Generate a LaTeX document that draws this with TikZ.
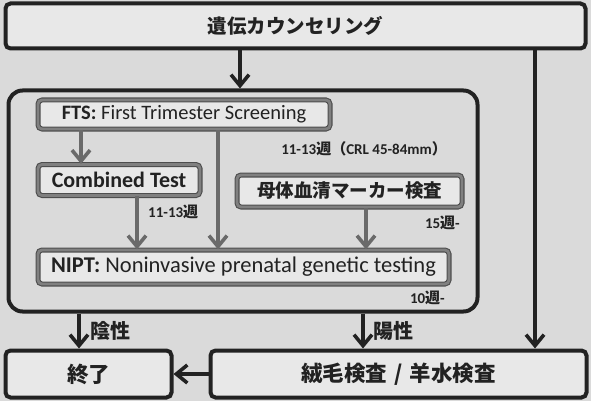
\documentclass[tikz,border=0pt]{standalone}
\usepackage{fontspec}
\setmainfont{Carlito}
\newfontfamily\jp{Noto Sans CJK JP}
\usetikzlibrary{arrows.meta}
\definecolor{bgc}{HTML}{DADADA}
\definecolor{boxfill}{HTML}{E8E8E8}
\definecolor{darkln}{HTML}{222222}
\definecolor{grayln}{HTML}{6A6A6A}
\tikzset{
  outerbox/.style={draw=darkln, line width=4pt, fill=boxfill, rounded corners=5pt, inner sep=0pt},
  innerbox/.style={draw=darkln!80, double=grayln!85, double distance=2.8pt, line width=1.1pt, fill=boxfill, rounded corners=4pt, inner sep=0pt},
  darrow/.style={draw=darkln, line width=3.6pt, -{Straight Barb[length=11pt,width=18pt]}},
  garrow/.style={draw=grayln, line width=3.6pt, -{Straight Barb[length=11pt,width=18pt]}},
  jpt/.style={font=\jp\bfseries\fontsize{19}{21}\selectfont, text=darkln},
  ent/.style={font=\fontsize{20.5}{23}\selectfont, text=darkln},
  small/.style={font=\bfseries\fontsize{15}{17}\selectfont, text=darkln, inner sep=0pt},
}
\begin{document}
\begin{tikzpicture}[x=1pt,y=-1pt]
\fill[bgc] (0,0) rectangle (591,401);
\useasboundingbox (0,0) rectangle (591,401);
% main boxes
\node[outerbox, minimum width=580pt, minimum height=45pt, jpt, font=\jp\bfseries\fontsize{19.5}{22}\selectfont] (top) at (295.5,26) {遺伝カウンセリング};
\node[draw=darkln, line width=4pt, rounded corners=14pt, minimum width=469pt, minimum height=221pt, inner sep=0pt] (outer) at (243,201) {};
\node[innerbox, minimum width=292pt, minimum height=29pt, ent] (fts) at (184,114.5) {\textbf{FTS:} First Trimester Screening};
\node[innerbox, minimum width=162pt, minimum height=31pt, ent, font=\bfseries\fontsize{22}{24}\selectfont] (comb) at (119,180) {Combined Test};
\node[innerbox, minimum width=225pt, minimum height=32pt, jpt, font=\jp\bfseries\fontsize{18.5}{21}\selectfont] (mat) at (349.5,191) {母体血清マーカー検査};
\node[innerbox, minimum width=411pt, minimum height=34pt, ent, font=\fontsize{22.5}{24}\selectfont] (nipt) at (243.5,267) {\textbf{NIPT:} Noninvasive prenatal genetic testing};
\node[outerbox, minimum width=166pt, minimum height=47pt, jpt, font=\jp\bfseries\fontsize{21.5}{23}\selectfont] (fin) at (88.5,374) {終了};
\node[outerbox, minimum width=376pt, minimum height=47pt, jpt, font=\jp\bfseries\fontsize{21.5}{23}\selectfont] (cvs) at (398.5,374) {絨毛検査\hspace{7pt}/\hspace{7pt}羊水検査};
% labels
\node[small, anchor=east] (l1) at (447,149) {11-13{\jp 週}{\jp（}CRL 45-84mm{\jp ）}};
\node[small, anchor=west] (l2) at (148,212) {11-13{\jp 週}};
\node[small, anchor=east] (l3) at (460,223) {15{\jp 週}-};
\node[small, anchor=east] (l4) at (445,298) {10{\jp 週}-};
% x positions
\coordinate (xa) at (240,0);
\coordinate (xr) at (535,0);
\coordinate (xf1) at (81,0);
\coordinate (xf2) at (218,0);
\coordinate (xc) at (137,0);
\coordinate (xm) at (366,0);
\coordinate (xn) at (79,0);
\coordinate (xp) at (363,0);
% arrows
\draw[darrow] (top.south -| xa) -- (outer.north -| xa);
\draw[darrow] (top.south -| xr) -- (cvs.north -| xr);
\draw[garrow] (fts.south -| xf1) -- (comb.north -| xf1);
\draw[garrow] (fts.south -| xf2) -- (nipt.north -| xf2);
\draw[garrow] (comb.south -| xc) -- (nipt.north -| xc);
\draw[garrow] (mat.south -| xm) -- (nipt.north -| xm);
\draw[darrow] (outer.south -| xn) -- node[jpt, anchor=west, xshift=6pt, font=\jp\bfseries\fontsize{20}{22}\selectfont] (neg) {陰性} (fin.north -| xn);
\draw[darrow] (outer.south -| xp) -- node[jpt, anchor=west, xshift=5pt, font=\jp\bfseries\fontsize{20}{22}\selectfont] (pos) {陽性} (cvs.north -| xp);
\draw[darrow] (cvs.west) -- (fin.east);
\end{tikzpicture}
\end{document}
